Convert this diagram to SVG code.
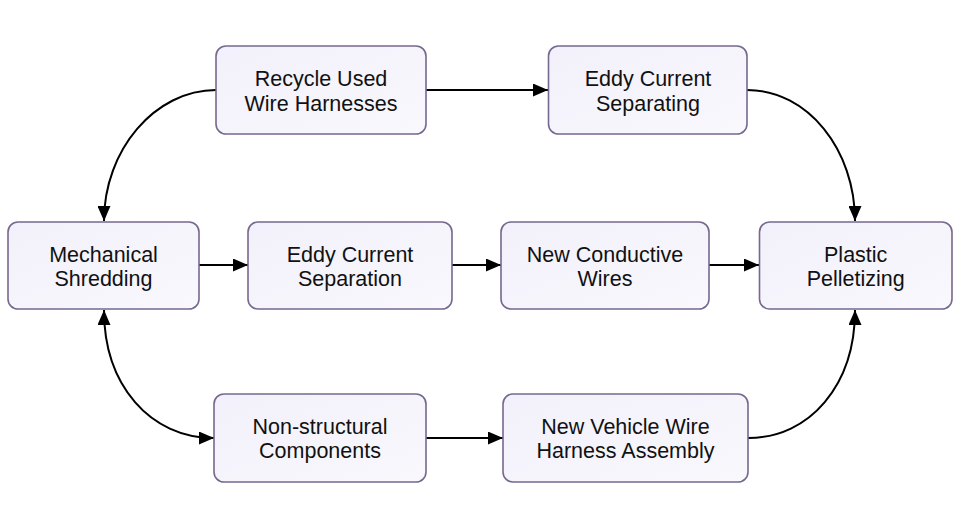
<svg xmlns="http://www.w3.org/2000/svg" width="960" height="520" viewBox="0 0 960 520">
<style>
.node rect{fill:url(#g);stroke:#76688e;stroke-width:1.6}
.node text{font-family:"Liberation Sans",Arial,sans-serif;font-size:21.5px;fill:#111;text-anchor:middle}
.edge{fill:none;stroke:#000;stroke-width:2}
</style>
<defs>
<linearGradient id="g" x1="0" y1="0" x2="1" y2="1">
<stop offset="0" stop-color="#f2f0fa"/>
<stop offset="1" stop-color="#f9f8fd"/>
</linearGradient>
<marker id="a" viewBox="0 0 15 13" refX="15" refY="6.5" markerWidth="15" markerHeight="13" markerUnits="userSpaceOnUse" orient="auto-start-reverse">
<path d="M0,0 L15,6.5 L0,13 Z" fill="#000"/>
</marker>
</defs>
<rect width="960" height="520" fill="#fff"/>
<g id="connectors">
<path class="edge" d="M426,90 L548,90" marker-end="url(#a)"/>
<path class="edge" d="M216,90 C155,90 104,150 104,221" marker-end="url(#a)"/>
<path class="edge" d="M747,90 C808,90 855,150 855,221" marker-end="url(#a)"/>
<path class="edge" d="M199,265 L248,265" marker-end="url(#a)"/>
<path class="edge" d="M452,265 L501,265" marker-end="url(#a)"/>
<path class="edge" d="M709,265 L759,265" marker-end="url(#a)"/>
<path class="edge" d="M104,310 C104,385 150,438 214,438" marker-start="url(#a)" marker-end="url(#a)"/>
<path class="edge" d="M426,438 L503,438" marker-end="url(#a)"/>
<path class="edge" d="M748,438 C810,438 855,385 855,310" marker-end="url(#a)"/>
</g>
<g id="n-recycle" class="node"><rect x="216" y="46" width="210" height="88" rx="10"/><text x="321" y="86">Recycle Used</text><text x="321" y="111">Wire Harnesses</text></g>
<g id="n-eddy-separating" class="node"><rect x="548.5" y="46" width="198.5" height="88" rx="10"/><text x="648" y="86">Eddy Current</text><text x="648" y="111">Separating</text></g>
<g id="n-mechanical" class="node"><rect x="8" y="222" width="191" height="87" rx="10"/><text x="103.5" y="262">Mechanical</text><text x="103.5" y="286">Shredding</text></g>
<g id="n-eddy-separation" class="node"><rect x="248" y="222" width="204" height="87" rx="10"/><text x="350" y="262">Eddy Current</text><text x="350" y="286">Separation</text></g>
<g id="n-conductive" class="node"><rect x="501" y="222" width="208" height="87" rx="10"/><text x="605" y="262">New Conductive</text><text x="605" y="286">Wires</text></g>
<g id="n-plastic" class="node"><rect x="759.5" y="222" width="192.5" height="87" rx="10"/><text x="855.7" y="262">Plastic</text><text x="855.7" y="286">Pelletizing</text></g>
<g id="n-nonstructural" class="node"><rect x="214" y="394" width="212" height="88" rx="10"/><text x="320" y="434">Non-structural</text><text x="320" y="458">Components</text></g>
<g id="n-vehicle" class="node"><rect x="503" y="394" width="245" height="88" rx="10"/><text x="625.5" y="434">New Vehicle Wire</text><text x="625.5" y="458">Harness Assembly</text></g>
</svg>
